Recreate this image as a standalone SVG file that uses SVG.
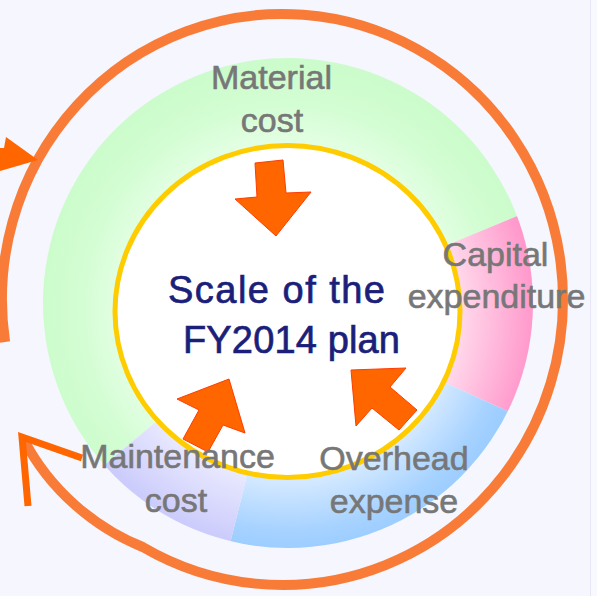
<svg xmlns="http://www.w3.org/2000/svg" width="597" height="596" viewBox="0 0 597 596">
<style>
.lbl{font-family:"Liberation Sans",Arial,sans-serif;font-size:34px;fill:#777777;stroke:#777777;stroke-width:0.6;text-anchor:middle}
.ctr{font-family:"Liberation Sans",Arial,sans-serif;font-size:38px;fill:#1b1f7a;stroke:#1b1f7a;stroke-width:0.7}
.blk{fill:#ff6600;stroke:#ff3d00;stroke-width:1;stroke-linejoin:miter}
.ring{fill:none;stroke:#f87c38;stroke-width:10}
.chev{fill:none;stroke:#ff6600;stroke-width:7;stroke-linejoin:miter;stroke-miterlimit:10}
</style>
<defs>
<clipPath id="donut"><circle cx="288" cy="303" r="245"/></clipPath>
<radialGradient id="gGreen" gradientUnits="userSpaceOnUse" cx="288" cy="311" r="245">
<stop offset="0.66" stop-color="#e6ffe6"/><stop offset="0.85" stop-color="#d3fdd3"/><stop offset="1" stop-color="#ccfccc"/>
</radialGradient>
<radialGradient id="gPink" gradientUnits="userSpaceOnUse" cx="288" cy="311" r="245">
<stop offset="0.66" stop-color="#ffe2f0"/><stop offset="1" stop-color="#ff99cc"/>
</radialGradient>
<radialGradient id="gBlue" gradientUnits="userSpaceOnUse" cx="288" cy="311" r="245">
<stop offset="0.66" stop-color="#dcedff"/><stop offset="0.9" stop-color="#a6d2ff"/><stop offset="1" stop-color="#99ccff"/>
</radialGradient>
<radialGradient id="gPurple" gradientUnits="userSpaceOnUse" cx="288" cy="311" r="245">
<stop offset="0.66" stop-color="#ececff"/><stop offset="1" stop-color="#c8c8fc"/>
</radialGradient>
</defs>
<rect x="0" y="0" width="597" height="596" fill="#f8f8ff"/>
<rect x="0" y="0" width="590" height="596" fill="#f5f6fe"/>
<line x1="590.5" y1="0" x2="590.5" y2="596" stroke="#e6e6f6" stroke-width="1"/>

<g id="segments" clip-path="url(#donut)">
<polygon id="seg-material" fill="url(#gGreen)" points="288,311 -18.4,568.2 -112,311 5.2,28.2 288,-89 570.8,28.2 657.6,157.9"/>
<polygon id="seg-capital" fill="url(#gPink)" points="288,311 657.6,157.9 688,311 652,476.9"/>
<polygon id="seg-overhead" fill="url(#gBlue)" points="288,311 652,476.9 570.8,593.8 288,711 191.2,699.1"/>
<polygon id="seg-maintenance" fill="url(#gPurple)" points="288,311 191.2,699.1 88,657.4 -18.4,568.2"/>
</g>

<g id="center-node">
<ellipse cx="287.5" cy="311.5" rx="172.5" ry="166" fill="#ffffff" stroke="#ffcc00" stroke-width="5"/>
<text class="ctr" x="168" y="303" textLength="217" lengthAdjust="spacing">Scale of the</text>
<text class="ctr" x="183" y="353" textLength="217" lengthAdjust="spacing">FY2014 plan</text>
</g>

<g id="connectors">
<path class="ring" d="M5.1,342 A280.5,285.5 0 1 1 142.7,547 C95,528 50,490 24,440"/>
<path class="chev" d="M28,506 L22,437 L82,458"/>
<polygon fill="#ff6600" points="0,148 4,148 6,137 38,160 0,171"/>
<polygon class="blk" points="255,163 283,160 286,193 311,192 276,236 235,199 257,197"/>
<polygon class="blk" points="229,379 245,433 223,425 208,452 183,439 199,410 177,399"/>
<polygon class="blk" points="351,370 406,368 390,387 417,410 399,430 372,408 356,426"/>
</g>

<g id="node-material">
<text class="lbl" x="271.5" y="89">Material</text>
<text class="lbl" x="272" y="132">cost</text>
</g>
<g id="node-capital">
<text class="lbl" x="495.5" y="266">Capital</text>
<text class="lbl" x="496.5" y="308">expenditure</text>
</g>
<g id="node-overhead">
<text class="lbl" x="394" y="470">Overhead</text>
<text class="lbl" x="394" y="513">expense</text>
</g>
<g id="node-maintenance">
<text class="lbl" x="177.5" y="468">Maintenance</text>
<text class="lbl" x="176" y="512">cost</text>
</g>
</svg>
